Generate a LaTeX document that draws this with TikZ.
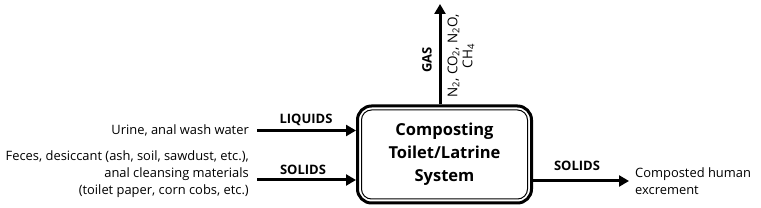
\documentclass[tikz,border=0pt]{standalone}
\usepackage{fontspec}
\setmainfont{Open Sans}
\usetikzlibrary{arrows.meta}
\tikzset{
  flow/.style={line width=3pt, -{Triangle[length=10pt,width=11pt]}},
  lbl/.style={font=\fontsize{13}{15}\selectfont\bfseries, inner sep=0pt},
  txt/.style={font=\fontsize{12.9}{17}\selectfont, inner sep=0pt},
}
\begin{document}
\begin{tikzpicture}[x=1pt,y=-1pt]
\useasboundingbox (0,0) rectangle (761,208);
% system box
\node (box) [draw, line width=3pt, rounded corners=14pt, minimum width=174pt, minimum height=97pt, inner sep=0pt] at (444.5,154.5) {};
\node (inner) [draw, line width=1pt, rounded corners=10pt, minimum width=166pt, minimum height=89pt, inner sep=0pt,
  align=center, font=\fontsize{16.5}{23}\selectfont\bfseries] at (444.5,154.5) {Composting\\Toilet/Latrine\\System};
% inputs
\coordinate (lq) at (257,130.5);
\coordinate (sd) at (257,180);
\draw[flow] (lq) -- (lq -| box.west);
\draw[flow] (sd) -- (sd -| box.west);
\node (lqlbl) [lbl] at (306,120) {LIQUIDS};
\node (sdlbl) [lbl] at (303,170) {SOLIDS};
\node (urine) [txt, anchor=east] at (249,130.5) {Urine, anal wash water};
\node (feces) [txt, anchor=east, align=right] at (249,174) {Feces, desiccant (ash, soil, sawdust, etc.),\\anal cleansing materials\\(toilet paper, corn cobs, etc.)};
% gas output
\coordinate (gtop) at (440,4);
\draw[flow] (box.north -| gtop) -- (gtop);
\node (gas) [lbl, rotate=90] at (427,60) {GAS};
\node (gases) [font=\fontsize{13.5}{15}\selectfont, inner sep=0pt, rotate=90, align=center] at (461,56) {N\textsubscript{2}, CO\textsubscript{2}, N\textsubscript{2}O,\\CH\textsubscript{4}};
% solids output
\coordinate (out) at (629,181);
\draw[flow] (box.east |- out) -- (out);
\node (outlbl) [lbl] at (577,166) {SOLIDS};
\node (comp) [txt, anchor=west, align=left] at (635,181) {Composted human\\excrement};
\end{tikzpicture}
\end{document}
